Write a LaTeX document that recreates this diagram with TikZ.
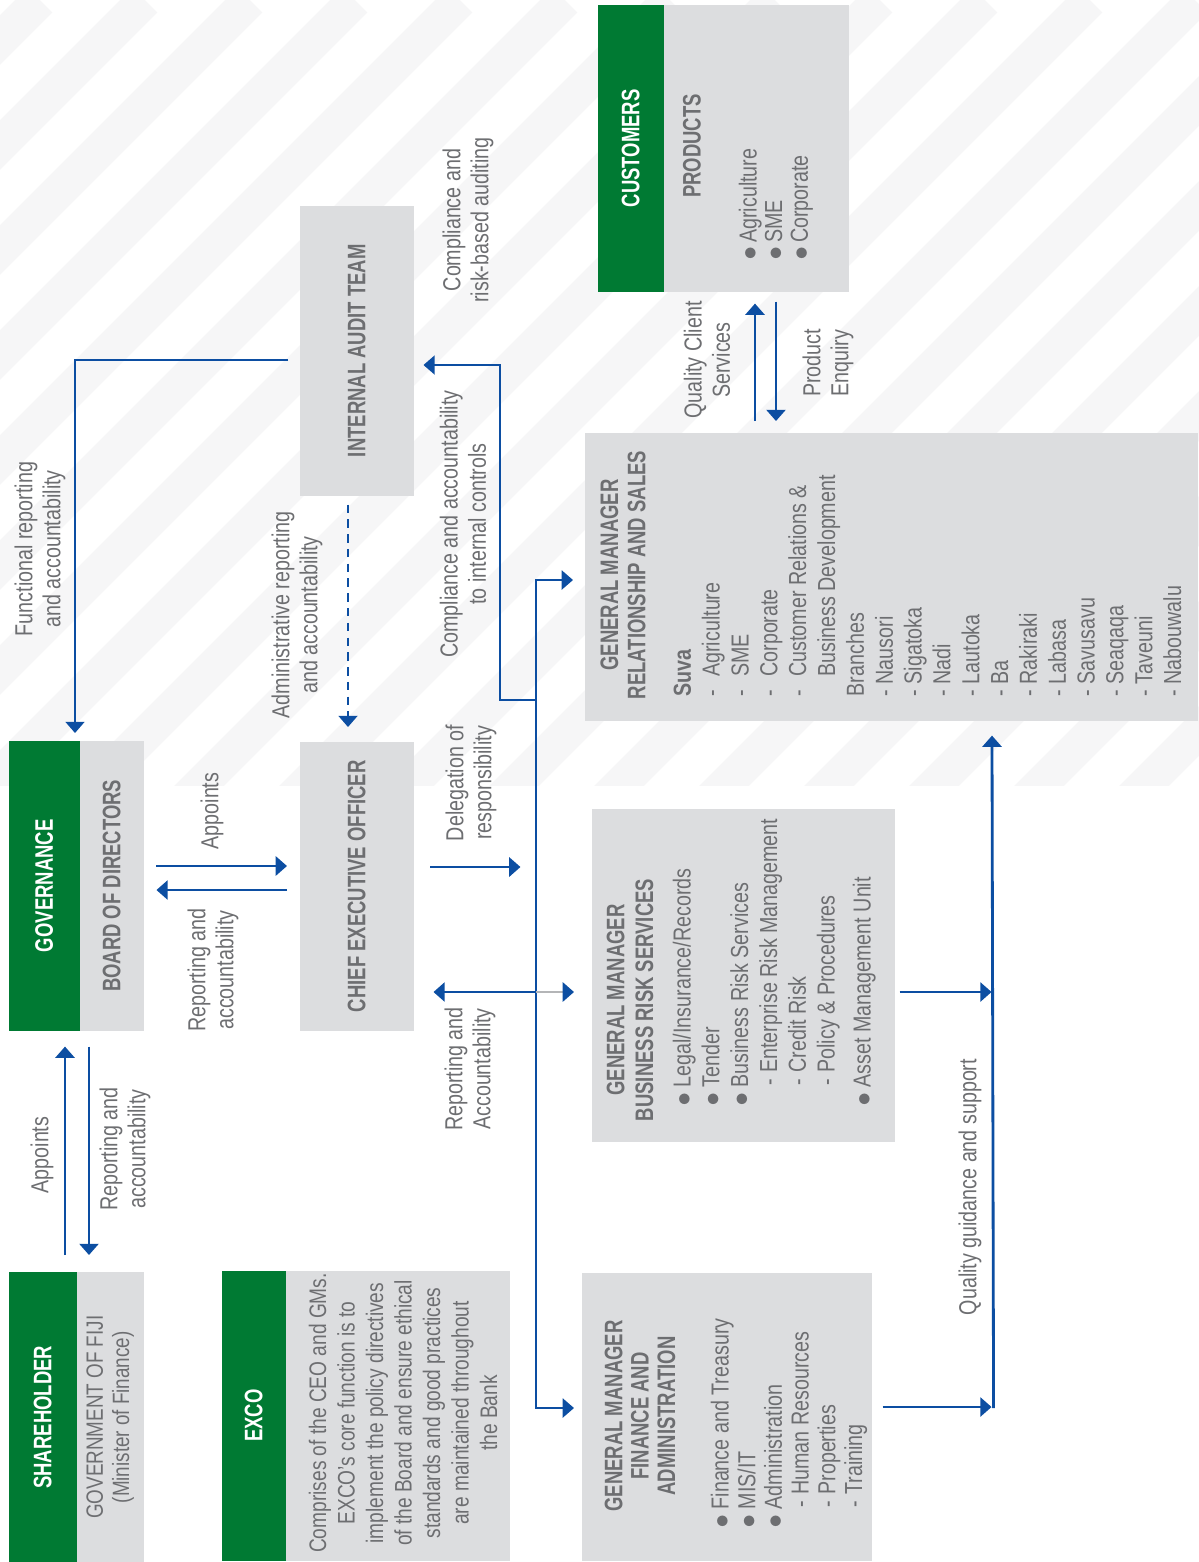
\documentclass[tikz,border=0pt]{standalone}
\usepackage{fontspec}
\setmainfont{Liberation Sans}[FakeStretch=0.8]
\newfontfamily\headfont{Liberation Sans}[FakeStretch=0.73]
\usetikzlibrary{arrows.meta}

\definecolor{bankgreen}{RGB}{0,122,51}
\definecolor{panelgrey}{RGB}{220,221,223}
\definecolor{inkgrey}{RGB}{109,110,113}
\definecolor{linkblue}{RGB}{12,78,162}
\definecolor{stripegrey}{RGB}{246,246,247}
\definecolor{tapgrey}{RGB}{180,181,183}

\newcommand{\bul}[2][5.4pt]{\makebox[#1][l]{$\bullet$}#2}
\newcommand{\subbul}[1]{\hspace*{6pt}\makebox[3.6pt][l]{-}#1}
\newcommand{\rsdash}[1]{\makebox[5.6pt][l]{-}#1}

\tikzset{
    panel/.style = {fill=panelgrey, inner sep=0pt, anchor=north west},
    headbar/.style = {fill=bankgreen, inner sep=0pt, anchor=north west},
    headtext/.style = {rotate=90, text=white, inner sep=0pt, font=\headfont\bfseries\fontsize{7.2}{8}\selectfont},
    boxtitle/.style = {rotate=90, text=inkgrey, inner sep=0pt, align=center, font=\headfont\bfseries\fontsize{7.2}{7.9}\selectfont},
    boxtext/.style = {rotate=90, text=inkgrey, inner sep=0pt, align=left, font=\fontsize{7}{8.2}\selectfont},
    note/.style = {rotate=90, text=inkgrey, inner sep=0pt, align=center, font=\fontsize{7}{8}\selectfont},
    link/.style = {draw=linkblue, line width=0.8pt, -{Triangle[length=3.2pt, width=5.4pt]}},
    auditlink/.style = {link, line width=0.6pt},
}

\begin{document}
\begin{tikzpicture}[x=0.01cm, y=-0.01cm]
\useasboundingbox (0,0) rectangle (1199,1562);

% background stripes
\begin{scope}
\clip (0,0) rectangle (1199,785);
\foreach \s in {40,145,...,2100}
    \draw[stripegrey, line width=10pt] (\s,0) -- ++(-900,900);
\end{scope}

% top row (read sideways): shareholder, governance, customers
\node[headbar, minimum width=0.68cm, minimum height=2.91cm] (sh-head) at (8,1271) {};
\node[panel, minimum width=0.67cm, minimum height=2.91cm] (sh-body) at (76,1271) {};
\node[headtext] at (sh-head) {SHAREHOLDER};
\node[note, font=\fontsize{6.7}{7.4}\selectfont] at (sh-body) {GOVERNMENT OF FIJI\\(Minister of Finance)};

\node[headbar, minimum width=0.71cm, minimum height=2.90cm] (gov-head) at (8,740) {};
\node[panel, minimum width=0.64cm, minimum height=2.90cm] (gov-body) at (79,740) {};
\node[headtext] at (gov-head) {GOVERNANCE};
\node[boxtitle] at (gov-body) {BOARD OF DIRECTORS};

\node[headbar, minimum width=0.66cm, minimum height=2.87cm] (cust-head) at (597,4) {};
\node[panel, minimum width=1.85cm, minimum height=2.87cm] (cust-body) at (663,4) {};
\node[headtext] at (cust-head) {CUSTOMERS};
\node[boxtitle] (cust-title) at (692,146) {PRODUCTS};
\node[boxtext, anchor=north west, font=\fontsize{7}{7.3}\selectfont] (cust-list) at (738,261)
    {\bul[5pt]{Agriculture}\\ \bul[5pt]{SME}\\ \bul[5pt]{Corporate}};

% middle row: exco, ceo, internal audit
\node[headbar, minimum width=0.64cm, minimum height=2.90cm] (exco-head) at (221,1270) {};
\node[panel, minimum width=2.24cm, minimum height=2.90cm] (exco-body) at (285,1270) {};
\node[headtext] at (exco-head) {EXCO};
\node[note, font=\fontsize{6.8}{8.1}\selectfont] at (403,1413) {Comprises of the CEO and GMs.\\EXCO’s core function is to\\implement the policy directives\\of the Board and ensure ethical\\standards and good practices\\are maintained throughout\\the Bank};

\node[panel, minimum width=1.14cm, minimum height=2.89cm] (ceo) at (299,741) {};
\node[boxtitle] at (ceo) {CHIEF EXECUTIVE OFFICER};

\node[panel, minimum width=1.14cm, minimum height=2.90cm] (audit) at (299,205) {};
\node[boxtitle] at (audit) {INTERNAL AUDIT TEAM};

% bottom row: general managers
\node[panel, minimum width=2.90cm, minimum height=2.88cm] (fa) at (581,1272) {};
\node[boxtitle, font=\headfont\bfseries\fontsize{7.2}{7.5}\selectfont] (fa-title) at (640,1416) {GENERAL MANAGER\\FINANCE AND\\ADMINISTRATION};
\node[boxtext, anchor=north west, font=\fontsize{7}{7.6}\selectfont] (fa-list) at (710,1529) {%
    \bul{Finance and Treasury}\\
    \bul{MIS/IT}\\
    \bul{Administration}\\
    \subbul{Human Resources}\\
    \subbul{Properties}\\
    \subbul{Training}};

\node[panel, minimum width=3.03cm, minimum height=3.33cm] (brs) at (591,808) {};
\node[boxtitle, font=\headfont\bfseries\fontsize{7.2}{8.2}\selectfont] (brs-title) at (630,1000) {GENERAL MANAGER\\BUSINESS RISK SERVICES};
\node[boxtext, anchor=north west] (brs-list) at (672,1107) {%
    \bul{Legal/Insurance/Records}\\
    \bul{Tender}\\
    \bul{Business Risk Services}\\
    \subbul{Enterprise Risk Management}\\
    \subbul{Credit Risk}\\
    \subbul{Policy \& Procedures}\\[2pt]
    \bul{Asset Management Unit}};

\node[panel, minimum width=6.13cm, minimum height=2.88cm] (rs) at (584,432) {};
\node[boxtitle, font=\headfont\bfseries\fontsize{7.2}{7.7}\selectfont] (rs-title) at (623,575) {GENERAL MANAGER\\RELATIONSHIP AND SALES};
\node[boxtext, anchor=north west] (rs-list) at (673,697) {%
    \textbf{Suva}\\
    \rsdash{Agriculture}\\
    \rsdash{SME}\\
    \rsdash{Corporate}\\
    \rsdash{Customer Relations \&}\\
    \hspace*{5.6pt}Business Development\\
    Branches\\
    - Nausori\\
    - Sigatoka\\
    - Nadi\\
    - Lautoka\\
    - Ba\\
    - Rakiraki\\
    - Labasa\\
    - Savusavu\\
    - Seaqaqa\\
    - Taveuni\\
    - Nabouwalu};

% connectors
\draw[link] ([shift={(57,-16)}]sh-head.north west) -- ([shift={(57,15)}]gov-head.south west);
\draw[link] ([shift={(10,15)}]gov-body.south west) -- ([shift={(13,-16)}]sh-body.north west);
\draw[link] ([shift={(12,126)}]gov-body.north east) -- ([shift={(-12,125)}]ceo.north west);
\draw[link] ([shift={(-12,149)}]ceo.north west) -- ([shift={(12,150)}]gov-body.north east);
\draw[link] ([shift={(16,126)}]ceo.north east) -- ++(90,0);

\coordinate (bus-rs) at ([shift={(-48,148)}]rs.north west);
\coordinate (bus-fa) at ([shift={(-45,136)}]fa.north west);
\draw[auditlink, {Triangle[length=3.2pt, width=5.4pt]}-{Triangle[length=3.2pt, width=5.4pt]}]
    ([shift={(-11,148)}]rs.north west) -- (bus-rs) -- (bus-fa) -- ([shift={(-7,136)}]fa.north west);
\draw[link] (bus-rs |- 0,992) -- ([shift={(19,251)}]ceo.north east);
\draw[draw=tapgrey, line width=0.8pt, -{Triangle[length=3.2pt, width=5.4pt, color=linkblue]}]
    (bus-rs |- 0,992) -- ([shift={(-17,184)}]brs.north west);

\draw[auditlink] ([shift={(-48,268)}]rs.north west) -- ++(-36,0) |- ([shift={(9,160)}]audit.north east);
\draw[auditlink] ([shift={(-11,155)}]audit.north west) -| ([shift={(67,-7)}]gov-head.north west);
\draw[auditlink, dashed, dash pattern=on 2.4pt off 1.8pt] ([shift={(49,8)}]audit.south west) -- ([shift={(49,-14)}]ceo.north west);

\draw[link] ([shift={(10,135)}]fa.north east) -- ++(109,0);
\draw[link] ([shift={(4,184)}]brs.north east) -- ++(92,0);
\draw[link] ([shift={(121,136)}]fa.north east) -- ([shift={(408,14)}]rs.south west);

\draw[link] ([shift={(171,-11)}]rs.north west) -- ([shift={(92,11)}]cust-body.south west);
\draw[link] ([shift={(113,9)}]cust-body.south west) -- ([shift={(192,-11)}]rs.north west);

% connector labels
\node[note] (l-sh-app) at (42,1155) {Appoints};
\node[note] (l-sh-rep) at (125,1149) {Reporting and\\accountability};
\node[note] (l-ceo-app) at (212,811) {Appoints};
\node[note] (l-ceo-rep) at (213,970) {Reporting and\\accountability};
\node[note] (l-deleg) at (471,783) {Delegation of\\responsibility};
\node[note] (l-acc) at (470,1069) {Reporting and\\Accountability};
\node[note] (l-func) at (40,549) {Functional reporting\\and accountability};
\node[note] (l-admin) at (297,615) {Administrative reporting\\and accountability};
\node[note] (l-ctrl) at (463,524) {Compliance and accountability\\to internal controls};
\node[note] (l-audit) at (468,220) {Compliance and\\risk-based auditing};
\node[note] (l-qcs) at (707,360) {Quality Client\\Services};
\node[note] (l-enq) at (828,363) {Product\\Enquiry};
\node[note] (l-qgs) at (970,1187) {Quality guidance and support};
\end{tikzpicture}
\end{document}
